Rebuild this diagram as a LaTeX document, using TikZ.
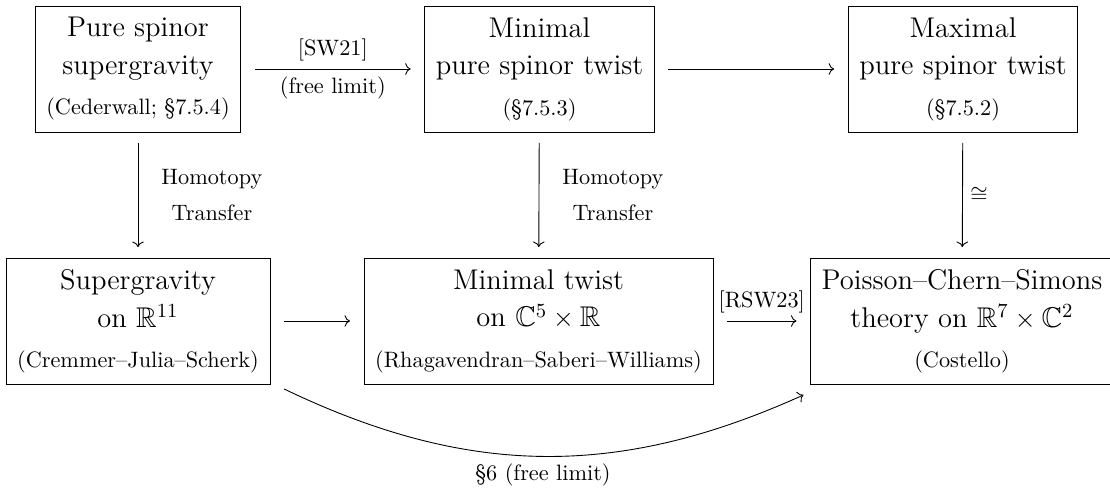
\documentclass[tikz,border=0pt]{standalone}
\usepackage{amssymb}
\usetikzlibrary{cd}
\begin{document}
\begin{tikzpicture}[x=0.449pt,y=-0.449pt, >={cm to}, line width=0.4pt,
  box/.style={draw, align=center, inner xsep=5pt, minimum height=56.6pt,
    outer xsep=6.3pt, outer ysep=4.9pt, font=\fontsize{12.8pt}{17pt}\selectfont},
  sm/.style={font=\fontsize{10pt}{12pt}\selectfont},
  twoline/.style={right, xshift=7pt, align=center, font=\fontsize{10pt}{16.2pt}\selectfont},
  arr/.style={->}]
\useasboundingbox (0,0) rectangle (1110,489);
\node[box] (a) at (138,69) {Pure spinor\\ supergravity\\[1pt] {\fontsize{10pt}{12pt}\selectfont (Cederwall; \S7.5.4)}};
\node[box] (b) at (539.5,69) {Minimal\\ pure spinor twist\\[1pt] {\fontsize{10pt}{12pt}\selectfont (\S7.5.3)}};
\node[box] (c) at (963,69) {Maximal\\ pure spinor twist\\[1pt] {\fontsize{10pt}{12pt}\selectfont (\S7.5.2)}};
\node[box] (d) at (138,321) {Supergravity\\ on $\mathbb{R}^{11}$\\[1pt] {\fontsize{10pt}{12pt}\selectfont (Cremmer--Julia--Scherk)}};
\node[box] (e) at (538.5,321) {Minimal twist\\ on $\mathbb{C}^5\times\mathbb{R}$\\[1pt] {\fontsize{10pt}{12pt}\selectfont (Rhagavendran--Saberi--Williams)}};
\node[box] (f) at (962,321) {Poisson--Chern--Simons\\ theory on $\mathbb{R}^7\times\mathbb{C}^2$\\[1pt] {\fontsize{10pt}{12pt}\selectfont (Costello)}};
\draw[arr] (a) -- node[above, sm]{[SW21]} node[below, sm]{(free limit)} (b);
\draw[arr] (b) -- (c);
\draw[arr] (a) -- node[twoline]{Homotopy\\Transfer} (d);
\draw[arr] (b) -- node[twoline]{Homotopy\\Transfer} (e);
\draw[arr] (c) -- node[right, sm]{$\cong$} (f);
\draw[arr] (d) -- (e);
\draw[arr] (e) -- node[above, sm]{[RSW23]} (f);
\draw[arr] (d) to[bend right=25] node[below, sm]{\S6 (free limit)} (f);
\end{tikzpicture}
\end{document}
